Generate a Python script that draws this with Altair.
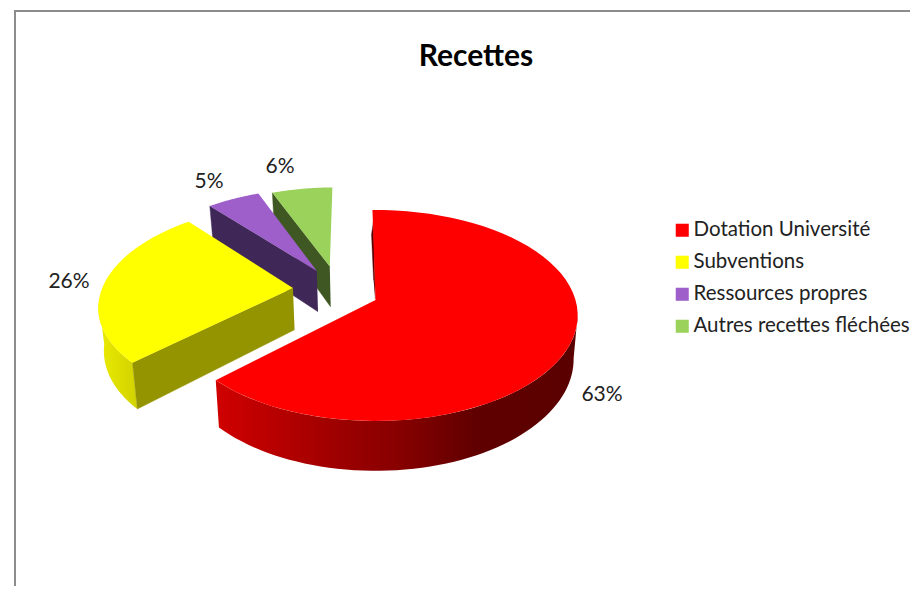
import math
import altair as alt
import pandas as pd

CATEGORIES = ["Dotation Université", "Subventions", "Ressources propres", "Autres recettes fléchées"]
VALUES = [63, 26, 5, 6]
COLORS = ["#ff0000", "#ffff00", "#9e5fcb", "#9bd25c"]
WALL_COLORS = ["#8a0000", "#949400", "#3f2857", "#3f5722"]
LABELS = ["63%", "26%", "5%", "6%"]
LABEL_X = [602, 69, 209, 280]
LABEL_Y = [395, 282, 182, 167]

# View of the tilted pie: focal scales, perspective, thickness
CX, CY, FX, FY, K, DEPTH, SHRINK = 375.5, 300, 200, 103.2, 0.147, 42.5, 0.98
START = -1.0
EXPLODE = [(0.0, 0.0), (-0.42, 0.118), (-0.306, 0.293), (-0.24, 0.34)]
RADIUS = [1.0, 0.97, 1.0, 0.96]

edges = [START]
for v in VALUES:
    edges.append(edges[-1] + v * 3.6)


def project(x, z, low=False):
    s = 1 / (1 + K * z)
    px = FX * x * s
    py = CY - FY * z * s
    if low:
        px *= SHRINK
        py += DEPTH * s
    return CX + px, py


def rim(i, a, low=False):
    t = math.radians(a)
    ex, ez = EXPLODE[i]
    r = RADIUS[i]
    return project(ex + r * math.sin(t), ez + r * math.cos(t), low)


def arc(i, a, b, low=False, n=60):
    return [rim(i, a + (b - a) * j / n, low) for j in range(n + 1)]


def frame(points, **extra):
    return pd.DataFrame(
        [dict(px=p[0], py=p[1], o=j, **extra) for j, p in enumerate(points)]
    )


X = alt.X("px:Q", scale=alt.Scale(domain=[8, 910]), axis=None)
Y = alt.Y("py:Q", scale=alt.Scale(domain=[586, 8]), axis=None)
FILL_SCALE = alt.Scale(domain=CATEGORIES, range=COLORS)


def wall(points, fill):
    solid = isinstance(fill, str)
    return (
        alt.Chart(frame(points))
        .mark_line(fill=fill, stroke=fill if solid else "transparent", strokeWidth=0.4 if solid else 0, clip=False)
        .encode(x=X, y=Y, order="o:Q")
    )


def top(i):
    ex, ez = EXPLODE[i]
    pts = [project(ex, ez)] + arc(i, edges[i], edges[i + 1])
    return (
        alt.Chart(frame(pts, cat=CATEGORIES[i]))
        .mark_line(strokeWidth=0, filled=True)
        .encode(
            x=X,
            y=Y,
            order="o:Q",
            fill=alt.Fill(
                "cat:N",
                scale=FILL_SCALE,
                legend=alt.Legend(
                    title=None,
                    orient="none",
                    legendX=664,
                    legendY=212,
                    symbolType="square",
                    symbolSize=170,
                    symbolStrokeWidth=0,
                    labelFont="Lato",
                    labelFontSize=20.5,
                    labelColor="#222222",
                    labelLimit=400,
                    labelOffset=1,
                    rowPadding=11,
                ),
            ),
        )
    )


def radial(i, a):
    ex, ez = EXPLODE[i]
    return [project(ex, ez), rim(i, a), rim(i, a, True), project(ex, ez, True)]


layers = [
    alt.Chart(pd.DataFrame({"a": [0]})).mark_rule(color="#8c8c8c", strokeWidth=2).encode(
        x=alt.value(7), y=alt.value(3), y2=alt.value(578)
    ),
    alt.Chart(pd.DataFrame({"a": [0]})).mark_rule(color="#8c8c8c", strokeWidth=2).encode(
        x=alt.value(6), x2=alt.value(902), y=alt.value(3)
    ),
]

# Green, then purple (back to front)
layers += [wall(radial(3, edges[3]), WALL_COLORS[3]), top(3)]
layers += [wall(radial(2, edges[2]), WALL_COLORS[2]), top(2)]

# Yellow
yellow_out = arc(1, edges[1], 262) + arc(1, edges[1], 262, True)[::-1]
layers += [
    wall(
        yellow_out,
        alt.Gradient(
            gradient="linear",
            x1=0, x2=1, y1=0, y2=0,
            stops=[
                alt.GradientStop(offset=0, color="#ebeb00"),
                alt.GradientStop(offset=1, color="#d2d200"),
            ],
        ),
    ),
    wall(radial(1, edges[1]), WALL_COLORS[1]),
    top(1),
]

# Red
red_out = arc(0, 98, edges[1]) + arc(0, 98, edges[1], True)[::-1]
sliver = [project(-0.001, 0.01), project(-0.012, 0.85), project(-0.022, 0.7), project(-0.01, 0.2)]
layers += [
    wall(sliver, "#5a0000"),
    wall(
        red_out,
        alt.Gradient(
            gradient="linear",
            x1=0, x2=1, y1=0, y2=0,
            stops=[
                alt.GradientStop(offset=0, color="#d00000"),
                alt.GradientStop(offset=0.32, color="#a00000"),
                alt.GradientStop(offset=0.5, color="#880000"),
                alt.GradientStop(offset=0.72, color="#600000"),
                alt.GradientStop(offset=1, color="#5a0000"),
            ],
        ),
    ),
    top(0),
]

labels_df = pd.DataFrame({"px": LABEL_X, "py": LABEL_Y, "t": LABELS})
layers.append(
    alt.Chart(labels_df)
    .mark_text(font="Lato", fontSize=21, color="#222222")
    .encode(x=X, y=Y, text="t:N")
)

chart = (
    alt.layer(*layers)
    .properties(
        width=902,
        height=578,
        padding=0,
        autosize=alt.AutoSizeParams(type="none"),
        title=alt.TitleParams(
            "Recettes",
            font="Lato",
            fontSize=30,
            fontWeight="bold",
            color="#000000",
            anchor="middle",
            dx=17,
            offset=-64,
        ),
    )
    .configure_view(stroke=None)
    .configure_legend(labelFont="Lato")
)

chart.save("out.html", embed_options={"renderer": "svg", "actions": False})
